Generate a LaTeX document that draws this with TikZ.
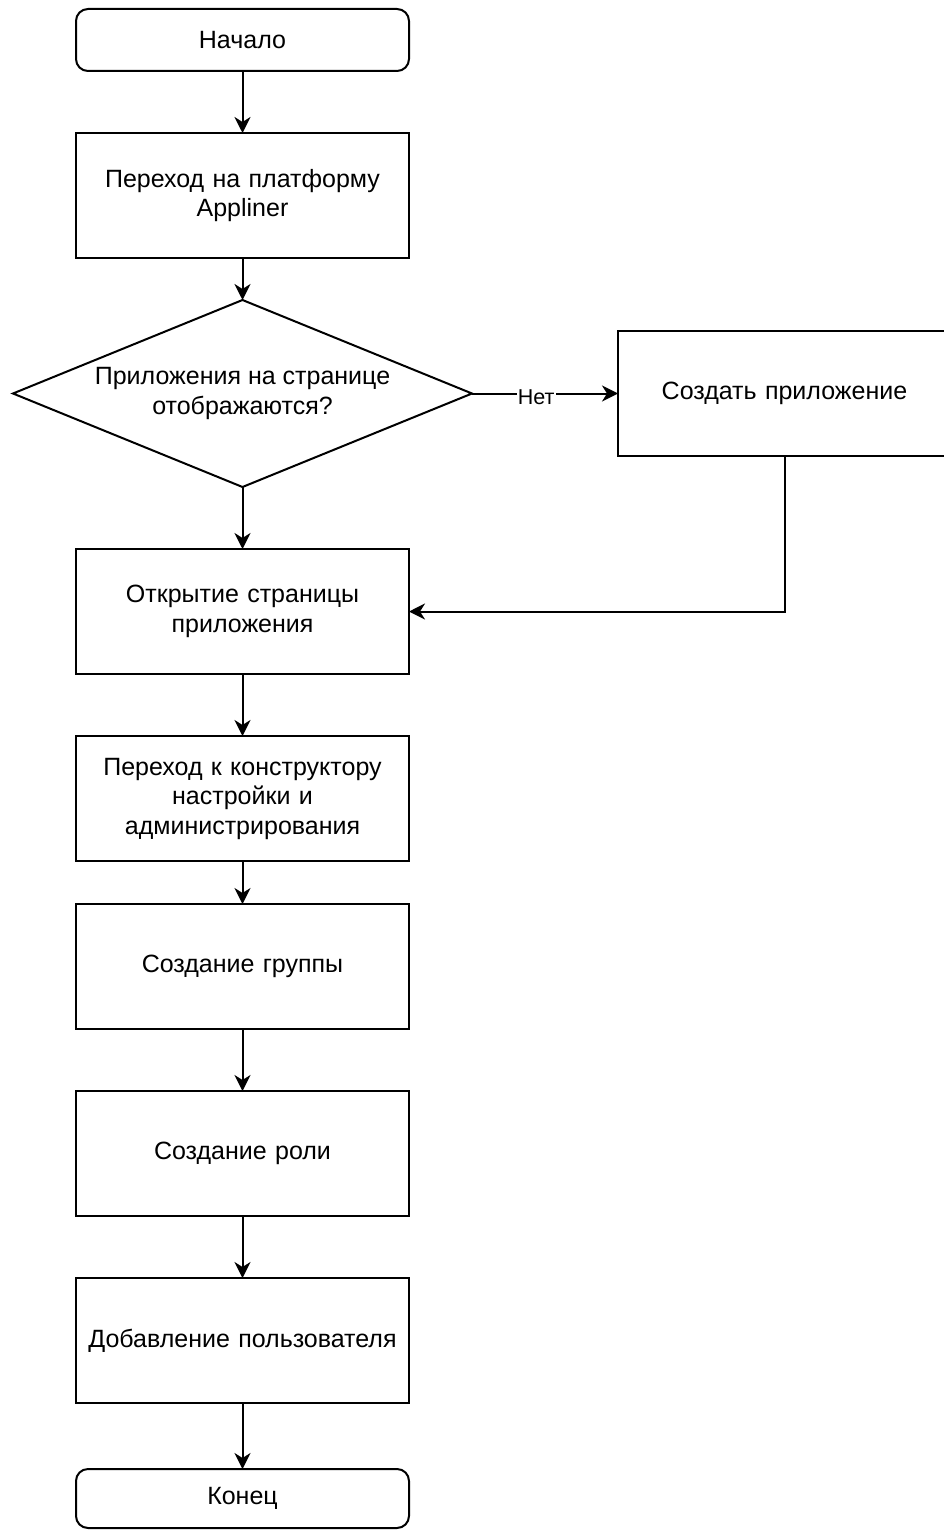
\documentclass[tikz,border=0pt]{standalone}
\usepackage{fontspec}
\setmainfont{Liberation Sans}
\usetikzlibrary{arrows.meta,positioning,shapes.geometric}

\begin{document}
\begin{tikzpicture}[
    x=1pt,y=-1pt,
    node distance=62pt,
    every node/.style={font=\fontsize{25}{29.5}\selectfont,align=center},
    blok/.style={draw,line width=2pt,outer sep=0pt,minimum width=333pt,
      minimum height=125pt,text width=325pt,inner sep=0pt},
    terminal/.style={blok,rounded corners=12pt,minimum height=62pt},
    romb/.style={draw,diamond,line width=2pt,outer sep=0pt,aspect=2.45,
      minimum width=459pt,minimum height=187pt,inner sep=0pt},
    metka/.style={fill=white,inner sep=1pt,font=\fontsize{21.5}{25}\selectfont},
    potok/.style={-{Stealth[length=16pt,width=16pt,inset=5pt]},line width=2pt}
  ]
    \useasboundingbox (0,0) rectangle (944,1530);
    \node[terminal] (nachalo) at (242.5,40) {Начало};
    \node[blok,below=of nachalo] (platforma)
      {Переход на платформу\\Appliner};
    \node[romb,below=42pt of platforma] (proverka)
      {Приложения на странице\\отображаются?};
    \node[blok,right=146pt of proverka] (sozdat) {Создать приложение};
    \node[blok,below=of proverka] (otkrytie)
      {Открытие страницы\\приложения};
    \node[blok,below=of otkrytie] (konstruktor)
      {Переход к конструктору\\настройки и\\администрирования};
    \node[blok,below=43pt of konstruktor] (gruppa) {Создание группы};
    \node[blok,below=of gruppa] (rol) {Создание роли};
    \node[blok,below=of rol] (polzovatel) {Добавление пользователя};
    \node[terminal,minimum height=59pt,below=66pt of polzovatel] (konec) {Конец};

    \draw[potok] (nachalo) -- (platforma);
    \draw[potok] (platforma) -- (proverka);
    \draw[potok] (proverka) -- node[metka,pos=0.44,yshift=-4pt] {Нет} (sozdat);
    \draw[potok] (sozdat.south) |- (otkrytie.east);
    \draw[potok] (proverka) -- (otkrytie);
    \draw[potok] (otkrytie) -- (konstruktor);
    \draw[potok] (konstruktor) -- (gruppa);
    \draw[potok] (gruppa) -- (rol);
    \draw[potok] (rol) -- (polzovatel);
    \draw[potok] (polzovatel) -- (konec);
  \end{tikzpicture}
\end{document}
